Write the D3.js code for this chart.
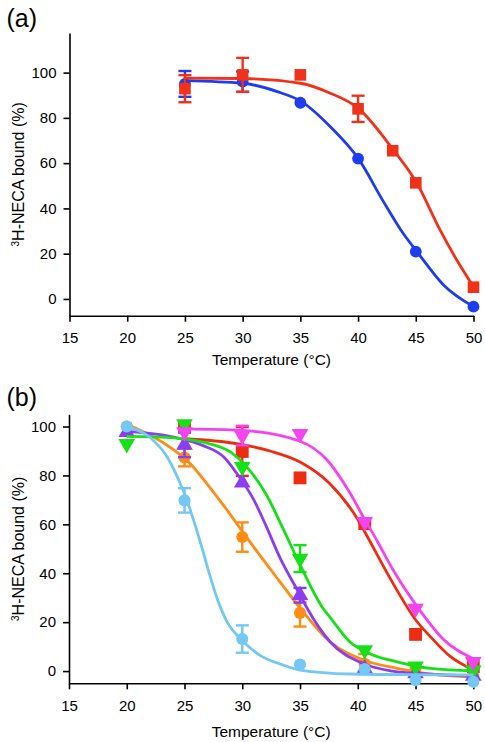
<!DOCTYPE html>
<html><head><meta charset="utf-8">
<script src="https://cdn.jsdelivr.net/npm/d3@7/dist/d3.min.js"></script>
<style>
body{margin:0;background:#fff}
svg{display:block}
text{font-family:"Liberation Sans",Arial,Helvetica,sans-serif;fill:#000}
</style>
</head><body>
<svg id="chart" width="485" height="742"></svg>
<script>
// ---------- shared axis ticks ----------
const xTicks = [15, 20, 25, 30, 35, 40, 45, 50];
const yTicks = [0, 20, 40, 60, 80, 100];
const xTitle = "Temperature (°C)";

// ---------- panel (a) ----------
const aBlueT   = [25, 30, 35, 40, 45, 50];
const aBlueY   = [95, 96, 86.7, 62, 20.9, -3.4];
const aBlueE   = [5.7, 4.5, 0, 0, 0, 0];
const aBlueFitT = [25, 30, 33, 35.1, 37.6, 40, 42.2, 43.9, 45.1, 47.4, 50];
const aBlueFitY = [96.5, 95.3, 91.6, 87.2, 76.1, 62.2, 43, 29, 20.9, 6.2, -3.4];

const aRedT   = [25, 30, 35, 40, 43, 45, 50];
const aRedY   = [92.9, 99, 99, 84, 65.5, 51.3, 5.2];
const aRedE   = [6, 7.5, 0, 5.8, 0, 0, 0];
const aRedFitT = [25, 30, 35, 37.6, 40, 43.06, 45.1, 47.1, 48.55, 50];
const aRedFitY = [97.6, 97.4, 95.3, 90.9, 84.3, 65.8, 51.1, 30.5, 17.2, 5.4];

// ---------- panel (b) ----------
const bRedT = [25, 30, 35, 40.6, 45, 50];
const bRedY = [100, 89.8, 79, 60.3, 15, 1.8];
const bRedE = [0, 10, 0, 0, 0, 0];
const bRedFitT = [25, 29.5, 32.4, 35, 37.5, 40, 41, 42.2, 43.4, 45, 46.3, 48, 50];
const bRedFitY = [95, 93, 90, 85.5, 77, 62, 53.5, 43, 33, 21, 14, 6, 0.5];

const bOrangeT = [20, 25, 30, 35, 40.6, 45, 50];
const bOrangeY = [100, 87.3, 54.8, 23.8, 3, 1, -2];
const bOrangeE = [0, 3.6, 6, 5.6, 4, 0, 0];
const bOrangeFitT = [20, 23.75, 25.5, 27.2, 28.7, 30.25, 32.7, 34.7, 37.6, 40.5, 43.4, 46, 50];
const bOrangeFitY = [101, 91.5, 84.8, 75, 65.7, 55.5, 40, 27.6, 12, 4.5, 1.1, -1, -2.5];

const bPurpleT = [20, 25, 30, 35, 40.6, 45, 50];
const bPurpleY = [97.7, 92.5, 77, 31, 1, -1, -2];
const bPurpleE = [0, 5, 0, 3, 0, 0, 0];
const bPurpleFitT = [20, 23.75, 26.6, 28.4, 29.5, 31, 32, 33.3, 34.9, 35.7, 37.6, 40.5, 43, 46, 50];
const bPurpleFitY = [98, 96, 92.2, 87.5, 81, 70, 60, 46, 32, 25, 12, 3, 0, -1.2, -2];

const bGreenT = [20, 25, 30, 35, 40.6, 45, 50];
const bGreenY = [92.9, 101, 83.5, 46, 8.6, 2, 0.4];
const bGreenE = [0, 0, 0, 5.5, 0, 0, 0];
const bGreenFitT = [20, 23.75, 26.6, 29, 30.4, 32.1, 33.6, 35, 37, 37.6, 39.3, 41.1, 43.4, 46.3, 50];
const bGreenFitY = [96, 95.5, 93.6, 89.5, 83.4, 72, 57.5, 43.5, 25.6, 22, 12, 7, 3.8, 1.1, 0.1];

const bMagentaT = [25, 30, 35, 40.6, 45, 50];
const bMagentaY = [97.7, 96.3, 97, 61, 25.6, 3.8];
const bMagentaE = [0, 4, 0, 0, 0, 0];
const bMagentaFitT = [25, 30, 35, 37.3, 39.3, 40.6, 41.7, 43.1, 45.2, 47.4, 50];
const bMagentaFitY = [99, 98.4, 94, 86.5, 73, 62, 53, 41, 26, 13, 5];

const bLightT = [20, 25, 30, 35, 40.6, 45, 50];
const bLightY = [100, 69.8, 13.1, 2.7, 0.8, -3.7, -4.4];
const bLightE = [0, 5, 5.6, 0, 0, 0, 0];
const bLightFitT = [20, 22, 23.5, 24.6, 25.2, 25.9, 26.6, 27.2, 27.8, 28.7, 30, 31.5, 33.6, 35, 39.3, 45, 50];
const bLightFitY = [100, 95.6, 87.5, 77, 70, 60, 49, 39, 30, 20, 12.5, 6.5, 2.4, 0.4, -1.2, -1.5, -1.6];

// ---------- drawing ----------
const svg = d3.select("#chart");

function mk(color, shape, size, T, Y, E, fT, fY) {
  return {color, shape, size,
    pts: T.map((t, i) => ({t, v: Y[i], e: E[i]})),
    fit: fT.map((t, i) => ({t, v: fY[i]}))};
}

const panels = [
  {label: "(a)", labelY: 26.5, xr: [69.5, 473.5], yd: [-7.4, 117.5], yr: [315.7, 33],
   xTitleY: 365,
   series: [
     mk("#1e3cf0", "circle", 110, aBlueT, aBlueY, aBlueE, aBlueFitT, aBlueFitY),
     mk("#f0321a", "square", 135, aRedT, aRedY, aRedE, aRedFitT, aRedFitY)
   ]},
  {label: "(b)", labelY: 405.5, xr: [69, 473.3], yd: [-5, 105], yr: [683.3, 414.3],
   xTitleY: 737,
   series: [
     mk("#ee2c12", "square", 165, bRedT, bRedY, bRedE, bRedFitT, bRedFitY),
     mk("#ff8c14", "circle", 115, bOrangeT, bOrangeY, bOrangeE, bOrangeFitT, bOrangeFitY),
     mk("#8a3ef0", "up", 120, bPurpleT, bPurpleY, bPurpleE, bPurpleFitT, bPurpleFitY),
     mk("#16e016", "down", 120, bGreenT, bGreenY, bGreenE, bGreenFitT, bGreenFitY),
     mk("#f444f0", "down", 120, bMagentaT, bMagentaY, bMagentaE, bMagentaFitT, bMagentaFitY),
     mk("#74c8f4", "circle", 115, bLightT, bLightY, bLightE, bLightFitT, bLightFitY)
   ]}
];

const symbolFor = {circle: d3.symbolCircle, square: d3.symbolSquare, up: d3.symbolTriangle, down: d3.symbolTriangle};

panels.forEach(p => {
  const x = d3.scaleLinear().domain([15, 50]).range(p.xr);
  const y = d3.scaleLinear().domain(p.yd).range(p.yr);
  const g = svg.append("g");

  // panel label
  g.append("text").attr("x", 6.5).attr("y", p.labelY)
    .style("font-size", "25px").text(p.label);

  // axes
  const xAxis = g.append("g").attr("transform", `translate(0,${p.yr[0]})`)
    .call(d3.axisBottom(x).tickValues(xTicks).tickSize(6).tickSizeOuter(0).tickPadding(11).tickFormat(d3.format("d")));
  const yAxis = g.append("g").attr("transform", `translate(${p.xr[0]},0)`)
    .call(d3.axisLeft(y).tickValues(yTicks).tickSize(6).tickSizeOuter(0).tickPadding(7).tickFormat(d3.format("d")));
  [xAxis, yAxis].forEach(a => {
    a.selectAll("path.domain").attr("stroke", "#000").attr("stroke-width", 1.6);
    a.selectAll(".tick line").attr("stroke", "#000").attr("stroke-width", 1.6);
    a.selectAll(".tick text").style("font-size", "15px").attr("fill", "#000")
      .style("font-family", '"Liberation Sans",Arial,sans-serif');
  });

  // axis titles
  g.append("text").attr("x", (p.xr[0] + p.xr[1]) / 2).attr("y", p.xTitleY)
    .attr("text-anchor", "middle").style("font-size", "15.5px").text(xTitle);
  const yt = g.append("text")
    .attr("transform", `translate(24,${(p.yr[0] + p.yr[1]) / 2}) rotate(-90)`)
    .attr("text-anchor", "middle").style("font-size", "16px");
  yt.append("tspan").attr("baseline-shift", "super").style("font-size", "10px").text("3");
  yt.append("tspan").text("H-NECA bound (%)");

  const line = d3.line().x(d => x(d.t)).y(d => y(d.v)).curve(d3.curveMonotoneX);

  p.series.forEach(s => {
    const sg = g.append("g");
    sg.append("path").datum(s.fit).attr("d", line)
      .attr("fill", "none").attr("stroke", s.color).attr("stroke-width", 2.8);
    // error bars
    const eb = sg.selectAll("g.err").data(s.pts.filter(d => d.e > 0)).join("g").attr("class", "err")
      .attr("stroke", s.color).attr("stroke-width", 2.4);
    eb.append("line").attr("x1", d => x(d.t)).attr("x2", d => x(d.t))
      .attr("y1", d => y(d.v - d.e)).attr("y2", d => y(d.v + d.e));
    eb.append("line").attr("x1", d => x(d.t) - 6.5).attr("x2", d => x(d.t) + 6.5)
      .attr("y1", d => y(d.v - d.e)).attr("y2", d => y(d.v - d.e));
    eb.append("line").attr("x1", d => x(d.t) - 6.5).attr("x2", d => x(d.t) + 6.5)
      .attr("y1", d => y(d.v + d.e)).attr("y2", d => y(d.v + d.e));
    // markers
    const sym = d3.symbol().type(symbolFor[s.shape]).size(s.size);
    sg.selectAll("path.pt").data(s.pts).join("path").attr("class", "pt")
      .attr("d", sym)
      .attr("transform", d => `translate(${x(d.t)},${y(d.v)})` + (s.shape === "down" ? " rotate(180)" : ""))
      .attr("fill", s.color);
  });
});
</script>
</body></html>
